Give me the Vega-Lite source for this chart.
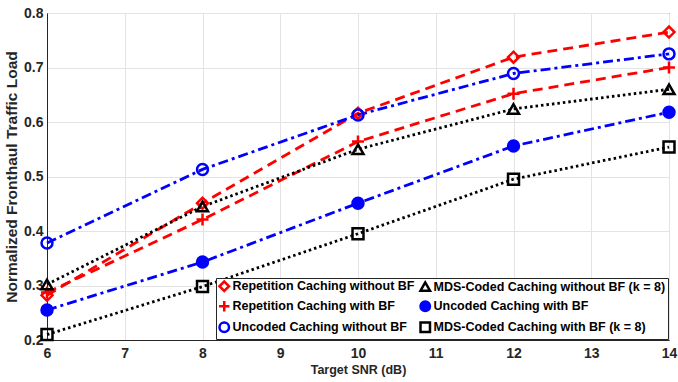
{
  "$schema": "https://vega.github.io/schema/vega-lite/v6.json",
  "autosize": "none",
  "width": 622,
  "height": 327,
  "padding": {"left": 47, "top": 13, "right": 9, "bottom": 42},
  "background": "white",
  "config": {
    "view": {"stroke": "#262626", "strokeWidth": 1},
    "axis": {
      "labelFont": "Liberation Sans",
      "labelFontWeight": "bold",
      "labelFontSize": 14,
      "labelColor": "#262626",
      "titleFont": "Liberation Sans",
      "titleFontWeight": "bold",
      "titleFontSize": 12.5,
      "titleColor": "#262626",
      "domainColor": "#262626",
      "gridColor": "#e3e3e3",
      "gridWidth": 1,
      "ticks": false
    }
  },
  "data": {
    "values": [
      {"series": "Repetition Caching without BF", "snr": 6, "load": 0.282},
      {"series": "Repetition Caching without BF", "snr": 8, "load": 0.451},
      {"series": "Repetition Caching without BF", "snr": 10, "load": 0.616},
      {"series": "Repetition Caching without BF", "snr": 12, "load": 0.719},
      {"series": "Repetition Caching without BF", "snr": 14, "load": 0.765},
      {"series": "Repetition Caching with BF", "snr": 6, "load": 0.287},
      {"series": "Repetition Caching with BF", "snr": 8, "load": 0.421},
      {"series": "Repetition Caching with BF", "snr": 10, "load": 0.564},
      {"series": "Repetition Caching with BF", "snr": 12, "load": 0.652},
      {"series": "Repetition Caching with BF", "snr": 14, "load": 0.70},
      {"series": "Uncoded Caching without BF", "snr": 6, "load": 0.378},
      {"series": "Uncoded Caching without BF", "snr": 8, "load": 0.513},
      {"series": "Uncoded Caching without BF", "snr": 10, "load": 0.613},
      {"series": "Uncoded Caching without BF", "snr": 12, "load": 0.689},
      {"series": "Uncoded Caching without BF", "snr": 14, "load": 0.725},
      {"series": "MDS-Coded Caching without BF (k = 8)", "snr": 6, "load": 0.302},
      {"series": "MDS-Coded Caching without BF (k = 8)", "snr": 8, "load": 0.445},
      {"series": "MDS-Coded Caching without BF (k = 8)", "snr": 10, "load": 0.55},
      {"series": "MDS-Coded Caching without BF (k = 8)", "snr": 12, "load": 0.624},
      {"series": "MDS-Coded Caching without BF (k = 8)", "snr": 14, "load": 0.66},
      {"series": "Uncoded Caching with BF", "snr": 6, "load": 0.255},
      {"series": "Uncoded Caching with BF", "snr": 8, "load": 0.343},
      {"series": "Uncoded Caching with BF", "snr": 10, "load": 0.451},
      {"series": "Uncoded Caching with BF", "snr": 12, "load": 0.556},
      {"series": "Uncoded Caching with BF", "snr": 14, "load": 0.618},
      {"series": "MDS-Coded Caching with BF (k = 8)", "snr": 6, "load": 0.21},
      {"series": "MDS-Coded Caching with BF (k = 8)", "snr": 8, "load": 0.298},
      {"series": "MDS-Coded Caching with BF (k = 8)", "snr": 10, "load": 0.395},
      {"series": "MDS-Coded Caching with BF (k = 8)", "snr": 12, "load": 0.495},
      {"series": "MDS-Coded Caching with BF (k = 8)", "snr": 14, "load": 0.554}
    ]
  },
  "encoding": {
    "x": {
      "field": "snr", "type": "quantitative",
      "scale": {"domain": [6, 14], "nice": false},
      "axis": {"values": [6, 7, 8, 9, 10, 11, 12, 13, 14], "title": "Target SNR (dB)", "labelPadding": 6, "titlePadding": 3, "labelFlush": false}
    },
    "y": {
      "field": "load", "type": "quantitative",
      "scale": {"domain": [0.2, 0.8], "nice": false, "zero": false},
      "axis": {"values": [0.2, 0.3, 0.4, 0.5, 0.6, 0.7, 0.8], "format": ".1f", "title": "Normalized Fronthaul Traffic Load", "titleFontSize": 15.5, "labelPadding": 4, "titlePadding": 4, "labelFlush": false}
    }
  },
  "layer": [
    {
      "transform": [{"filter": {"field": "series", "oneOf": ["Repetition Caching without BF", "Repetition Caching with BF"]}}],
      "mark": {"type": "line", "strokeWidth": 2.8, "strokeDash": [10, 6]},
      "encoding": {
        "stroke": {"field": "series", "type": "nominal"}
      }
    },
    {
      "transform": [{"filter": {"field": "series", "oneOf": ["Uncoded Caching without BF", "Uncoded Caching with BF"]}}],
      "mark": {"type": "line", "strokeWidth": 2.8, "strokeDash": [10, 4, 3, 4]},
      "encoding": {
        "stroke": {"field": "series", "type": "nominal"}
      }
    },
    {
      "transform": [{"filter": {"field": "series", "oneOf": ["MDS-Coded Caching without BF (k = 8)", "MDS-Coded Caching with BF (k = 8)"]}}],
      "mark": {"type": "line", "strokeWidth": 2.8, "strokeDash": [2.5, 3]},
      "encoding": {
        "stroke": {"field": "series", "type": "nominal"}
      }
    },
    {
      "mark": {"type": "point", "strokeWidth": 2.5, "size": 120, "opacity": 1},
      "encoding": {
        "stroke": {
          "field": "series", "type": "nominal",
          "scale": {
            "domain": ["Repetition Caching without BF", "Repetition Caching with BF", "Uncoded Caching without BF", "MDS-Coded Caching without BF (k = 8)", "Uncoded Caching with BF", "MDS-Coded Caching with BF (k = 8)"],
            "range": ["#ff0000", "#ff0000", "#0000ff", "#000000", "#0000ff", "#000000"]
          },
          "legend": {
            "title": null,
            "orient": "none",
            "legendX": 169,
            "legendY": 265,
            "columns": 2,
            "direction": "vertical",
            "fillColor": "white",
            "strokeColor": "#262626",
            "padding": 2,
            "rowPadding": 0,
            "columnPadding": 0,
            "labelFont": "Liberation Sans",
            "labelFontWeight": "bold",
            "labelFontSize": 12.5,
            "labelColor": "#000000",
            "labelOffset": 2,
            "symbolSize": 90,
            "symbolStrokeWidth": 2.5,
            "symbolOffset": 0,
            "labelLimit": 300
          }
        },
        "shape": {
          "field": "series", "type": "nominal",
          "scale": {
            "domain": ["Repetition Caching without BF", "Repetition Caching with BF", "Uncoded Caching without BF", "MDS-Coded Caching without BF (k = 8)", "Uncoded Caching with BF", "MDS-Coded Caching with BF (k = 8)"],
            "range": ["diamond", "M-1.1,0L1.1,0M0,-1.1L0,1.1", "circle", "triangle-up", "circle", "square"]
          }
        },
        "fill": {
          "field": "series", "type": "nominal",
          "scale": {
            "domain": ["Repetition Caching without BF", "Repetition Caching with BF", "Uncoded Caching without BF", "MDS-Coded Caching without BF (k = 8)", "Uncoded Caching with BF", "MDS-Coded Caching with BF (k = 8)"],
            "range": ["transparent", "transparent", "transparent", "transparent", "#0000ff", "transparent"]
          }
        }
      }
    }
  ]
}
